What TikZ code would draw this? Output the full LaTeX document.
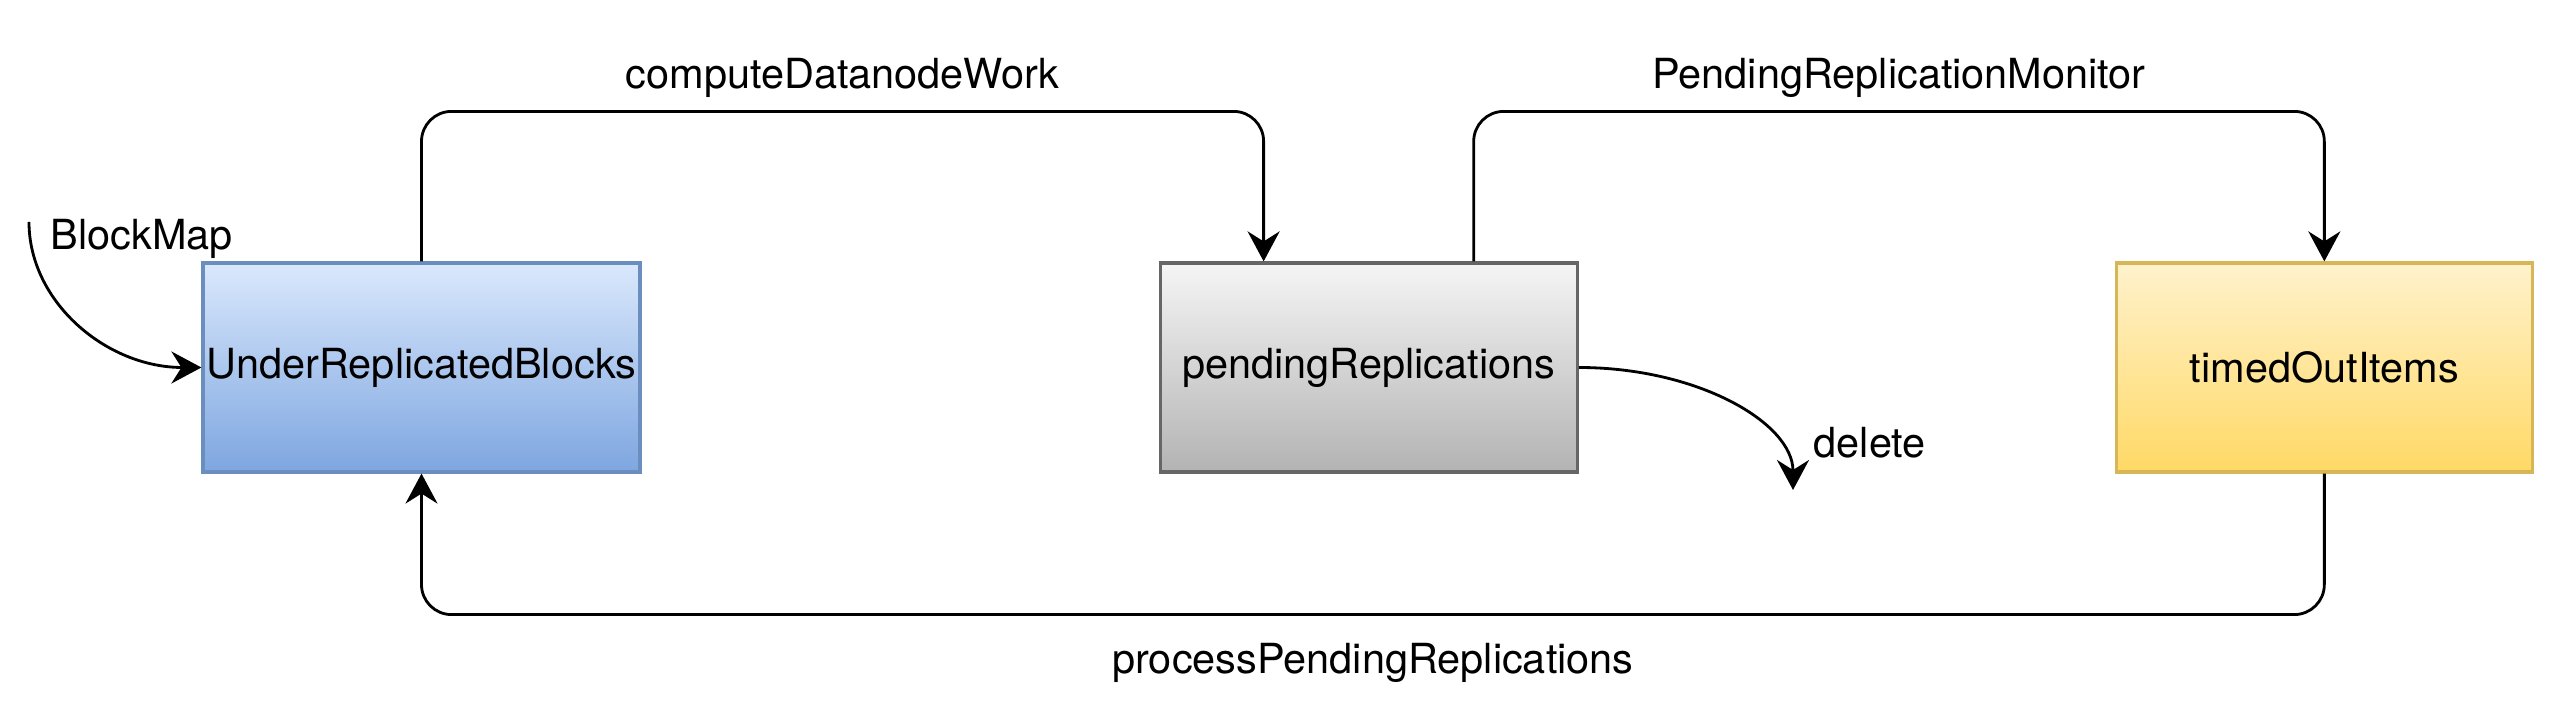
\documentclass[tikz,border=0pt]{standalone}
\usepackage{fontspec}
\setmainfont{TeX Gyre Heros}
\usepackage{tikz}
\usetikzlibrary{arrows.meta,positioning,calc}
\definecolor{ink}{HTML}{000000}
\definecolor{urbtop}{HTML}{DAE8FC}
\definecolor{urbbot}{HTML}{7EA6E0}
\definecolor{urbbd}{HTML}{6C8EBF}
\definecolor{pendtop}{HTML}{F5F5F5}
\definecolor{pendbot}{HTML}{B3B3B3}
\definecolor{pendbd}{HTML}{666666}
\definecolor{timedtop}{HTML}{FFF2CC}
\definecolor{timedbot}{HTML}{FFD966}
\definecolor{timedbd}{HTML}{D6B656}
\tikzset{
  setbox/.style={rectangle,line width=0.9pt,text=ink,align=center,
    font=\fontsize{11.8}{14}\selectfont,minimum height=2.09cm,inner sep=1pt},
  urbbox/.style={setbox,draw=urbbd,top color=urbtop,bottom color=urbbot,minimum width=4.37cm},
  pendbox/.style={setbox,draw=pendbd,top color=pendtop,bottom color=pendbot,minimum width=4.17cm},
  timedbox/.style={setbox,draw=timedbd,top color=timedtop,bottom color=timedbot,minimum width=4.16cm},
  flowarr/.style={-{Stealth[length=0.3cm,width=0.32cm,inset=0.1cm]},line width=0.8pt,
    color=ink,rounded corners=0.3cm},
  flowlabel/.style={font=\fontsize{11.8}{14}\selectfont,color=ink,inner sep=2pt},
}

\begin{document}
\begin{tikzpicture}
  \useasboundingbox (0,0) rectangle (25.54,-7.20);

  \node[urbbox] (urb) at (4.215,-3.675) {UnderReplicatedBlocks};
  \node[pendbox, right=5.17cm of urb] (pend) {pendingReplications};
  \node[timedbox, right=5.36cm of pend] (timed) {timedOutItems};

  \coordinate (bmsrc) at (0.29,-2.22);
  \coordinate (delsink) at (17.93,-4.90);

  \node[flowlabel, anchor=base west] (bmlabel) at (0.43,-2.50) {BlockMap};
  \node[flowlabel, anchor=base west] (dellabel) at (18.06,-4.58) {delete};

  \draw[flowarr] (bmsrc) .. controls +(0,-0.80) and +(-0.95,0) .. (urb.west);
  \draw[flowarr] (pend.east) .. controls +(1.19,0) and +(0,0.67) .. (delsink);
  \draw[flowarr] (urb.north) -- ++(0,1.5)
    -| node[pos=0.25,above=0.05cm,flowlabel]{computeDatanodeWork}
    ($(pend.north west)!0.25!(pend.north east)$);
  \draw[flowarr] ($(pend.north west)!0.75!(pend.north east)$) -- ++(0,1.5)
    -| node[pos=0.25,above=0.05cm,flowlabel]{PendingReplicationMonitor} (timed.north);
  \draw[flowarr] (timed.south) -- ++(0,-1.41)
    -| node[pos=0.25,below=0.2cm,flowlabel]{processPendingReplications} (urb.south);
\end{tikzpicture}
\end{document}
